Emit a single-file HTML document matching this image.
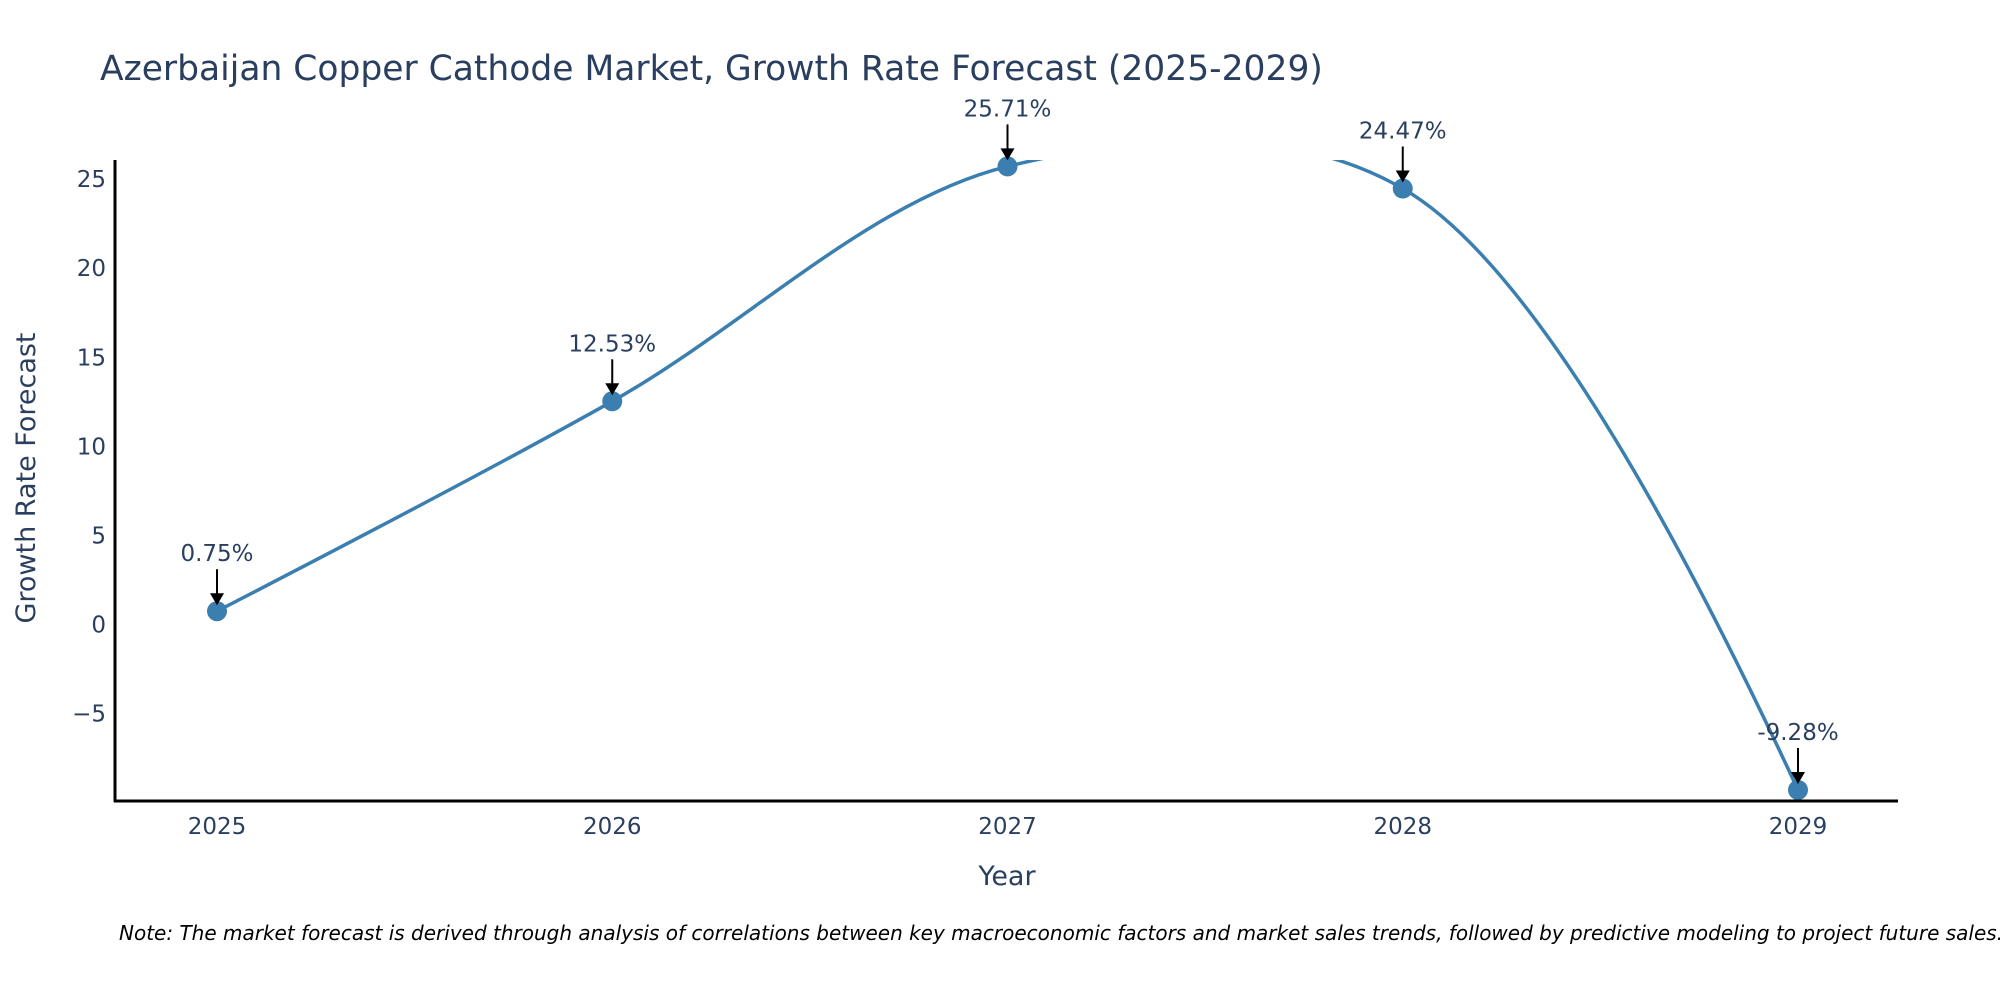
<!DOCTYPE html>
<html><head><meta charset="utf-8"><style>
html,body{margin:0;padding:0;background:#fff;overflow:hidden;}
svg{display:block;font-family:"DejaVu Sans","Liberation Sans",sans-serif;}
</style></head><body>
<svg id="chart" width="2000" height="1000" viewBox="0 0 2000 1000">
<defs>
<clipPath id="plotclip"><rect x="115" y="160" width="1783" height="641"/></clipPath>
</defs>
<text x="100" y="80" font-size="34.5" fill="#2a3f5f">Azerbaijan Copper Cathode Market, Growth Rate Forecast (2025-2029)</text>
<g id="yticks"></g>
<g id="xticks"></g>
<g clip-path="url(#plotclip)"><path id="line" fill="none" stroke="#3b7fb0" stroke-width="3.5"/></g>
<g id="markers"></g>
<g id="annos"></g>
<line x1="115" y1="160" x2="115" y2="802" stroke="#000" stroke-width="3"/>
<line x1="114" y1="801" x2="1898" y2="801" stroke="#000" stroke-width="3"/>
<text x="1007" y="885" font-size="27" fill="#2a3f5f" text-anchor="middle">Year</text>
<text transform="translate(35,478) rotate(-90)" font-size="27" fill="#2a3f5f" text-anchor="middle">Growth Rate Forecast</text>
<text x="119" y="940" font-size="20" font-style="italic" fill="#000">Note: The market forecast is derived through analysis of correlations between key macroeconomic factors and market sales trends, followed by predictive modeling to project future sales.</text>
</svg>
<script>
const years = [2025, 2026, 2027, 2028, 2029];
const growth = [0.75, 12.53, 25.71, 24.47, -9.28];
const labels = ["0.75%", "12.53%", "25.71%", "24.47%", "-9.28%"];
const yTicks = [-5, 0, 5, 10, 15, 20, 25];
const yMin = -9.9, yMax = 26.07;
const NS = "http://www.w3.org/2000/svg";
function X(v){ return 217 + (v - 2025) * (1798 - 217) / 4; }
function Y(v){ return 801 - (v - yMin) * (801 - 160) / (yMax - yMin); }
function el(t, a, p){ const e = document.createElementNS(NS, t); for (const k in a) e.setAttribute(k, a[k]); p.appendChild(e); return e; }
const yg = document.getElementById('yticks');
yTicks.forEach(t => {
  const e = el('text', {x:106, y:Y(t)+8, 'font-size':23, fill:'#2a3f5f', 'text-anchor':'end'}, yg);
  
  
  e.textContent = t < 0 ? '\u2212' + Math.abs(t) : String(t);
});
const xg = document.getElementById('xticks');
years.forEach(yr => {
  const e = el('text', {x:X(yr), y:834, 'font-size':23, fill:'#2a3f5f', 'text-anchor':'middle'}, xg);
  
  
  e.textContent = String(yr);
});
const pts = years.map((yr, i) => [X(yr), Y(growth[i])]);
function tangent(p, t, n, s){
  const d1x=p[0]-t[0], d1y=p[1]-t[1], d2x=n[0]-t[0], d2y=n[1]-t[1];
  const d1a=Math.pow(d1x*d1x+d1y*d1y,0.25), d2a=Math.pow(d2x*d2x+d2y*d2y,0.25);
  const nx=(d2a*d2a*d1x-d1a*d1a*d2x)*s, ny=(d2a*d2a*d1y-d1a*d1a*d2y)*s;
  const a=3*d2a*(d1a+d2a), b=3*d1a*(d1a+d2a);
  return [[t[0]+nx/a, t[1]+ny/a],[t[0]-nx/b, t[1]-ny/b]];
}
const tg = [];
for (let i = 1; i < pts.length - 1; i++) tg.push(tangent(pts[i-1], pts[i], pts[i+1], 1));
let d = 'M' + pts[0] + 'Q' + tg[0][0] + ' ' + pts[1];
for (let i = 2; i < pts.length - 1; i++) d += 'C' + tg[i-2][1] + ' ' + tg[i-1][0] + ' ' + pts[i];
d += 'Q' + tg[tg.length-1][1] + ' ' + pts[pts.length-1];
document.getElementById('line').setAttribute('d', d);
const mg = document.getElementById('markers'), ag = document.getElementById('annos');
pts.forEach((p, i) => {
  const c = el('circle', {cx:p[0], cy:p[1], r:10, fill:'#3b7fb0'}, mg);
  
  
  const ln = el('line', {x1:p[0], y1:p[1]-42, x2:p[0], y2:p[1]-14, stroke:'#000', 'stroke-width':2}, ag);
  
  
  const hd = el('polygon', {points:`${p[0]-7},${p[1]-18} ${p[0]+7},${p[1]-18} ${p[0]},${p[1]-6}`, fill:'#000'}, ag);
  
  
  const t = el('text', {x:p[0], y:p[1]-50, 'font-size':23, fill:'#2a3f5f', 'text-anchor':'middle'}, ag);
  
  
  t.textContent = labels[i];
});
</script>
</body></html>
